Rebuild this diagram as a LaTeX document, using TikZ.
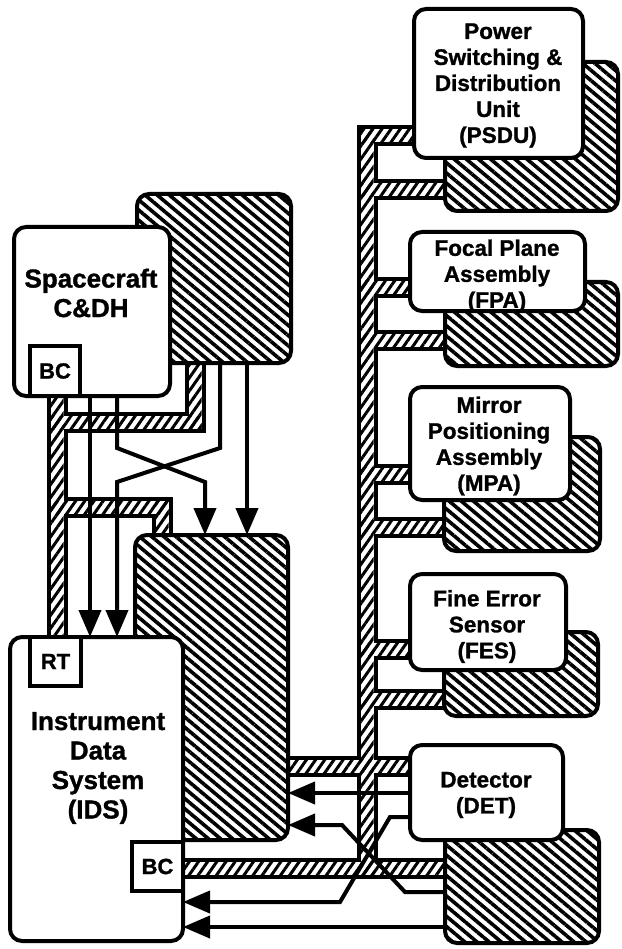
\documentclass[tikz,border=0pt]{standalone}
\usepackage{fontspec}
\setmainfont{Liberation Sans}[BoldFeatures={FakeBold=1.2}]
\usetikzlibrary{patterns.meta,arrows.meta,calc}
\pgfdeclarelayer{bg}
\pgfsetlayers{bg,main}
\newcommand\hatchseg[2]{\fill[bandhatch] ($(#1)+(-6.5,-6.5)$) rectangle ($(#2)+(6.5,6.5)$);}
\begin{document}
\begin{tikzpicture}[x=1pt,y=-1pt,
  whitebox/.style={draw,line width=4pt,fill=white,rounded corners=12pt,inner sep=0pt,outer sep=0pt},
  shadowbox/.style={draw,line width=4pt,rounded corners=12pt,inner sep=0pt,outer sep=0pt,preaction={fill=white},pattern={Lines[angle=-40,distance=7.8pt,line width=3.6pt]}},
  smallbox/.style={draw,line width=4pt,fill=white,inner sep=0pt,outer sep=0pt,font=\fontsize{22pt}{24pt}\selectfont\bfseries},
  bigtext/.style={align=center,inner sep=0pt,font=\fontsize{26pt}{29.5pt}\selectfont\bfseries},
  smalltext/.style={align=center,inner sep=0pt,font=\fontsize{22.5pt}{26pt}\selectfont\bfseries},
  bandout/.style={line width=21pt,line join=miter,black},
  bandin/.style={line width=13pt,line join=miter,white},
  bandhatch/.style={pattern={Lines[angle=55,distance=7.5pt,line width=3pt]}},
  arr/.style={line width=4pt,line join=miter,-{Triangle[length=27pt,width=22pt]}}
]
\useasboundingbox (0,0) rectangle (621,949);

% ---------- boxes ----------
\node[shadowbox,minimum width=154pt,minimum height=169pt] (scs) at (214,278.5) {};
\node[whitebox,minimum width=156pt,minimum height=169pt] (sc) at (92,311.5) {};
\node[smallbox,minimum width=50pt,minimum height=50pt] (scbc) at (55,371) {BC};

\node[shadowbox,minimum width=153pt,minimum height=305pt] (idss) at (211.5,687.5) {};
\node[whitebox,minimum width=173pt,minimum height=304pt] (ids) at (96.5,789) {};
\node[smallbox,minimum width=51pt,minimum height=49pt] (rt) at (55.5,661.5) {RT};
\node[smallbox,minimum width=51pt,minimum height=49pt] (idsbc) at (157.5,866.5) {BC};

\node[shadowbox,minimum width=173pt,minimum height=149pt] (psdus) at (531.5,136.5) {};
\node[whitebox,minimum width=169pt,minimum height=149pt] (psdu) at (498.5,83.5) {};
\node[shadowbox,minimum width=173pt,minimum height=84pt] (fpas) at (531.5,324) {};
\node[whitebox,minimum width=175pt,minimum height=79pt] (fpa) at (497.5,271.5) {};
\node[shadowbox,minimum width=156pt,minimum height=114pt] (mpas) at (522,494) {};
\node[whitebox,minimum width=160pt,minimum height=113pt] (mpa) at (490,443.5) {};
\node[shadowbox,minimum width=154pt,minimum height=84pt] (fess) at (521,674) {};
\node[whitebox,minimum width=156pt,minimum height=96pt] (fes) at (488,622) {};
\node[shadowbox,minimum width=154pt,minimum height=113pt] (dets) at (522,886.5) {};
\node[whitebox,minimum width=153pt,minimum height=95pt] (det) at (486.5,792.5) {};

% ---------- texts ----------
\node[bigtext] (sctext) at (91,293) {Spacecraft\\C\&DH};
\node[bigtext] (idstext) at (98,768) {Instrument\\Data\\System\\(IDS)};
\node[smalltext] (psdutext) at (498,85.5) {Power\\Switching \&\\Distribution\\Unit\\(PSDU)};
\node[smalltext] (fpatext) at (497,276) {Focal Plane\\Assembly\\(FPA)};
\node[smalltext] (mpatext) at (489,446) {Mirror\\Positioning\\Assembly\\(MPA)};
\node[smalltext] (festext) at (487,626.5) {Fine Error\\Sensor\\(FES)};
\node[smalltext] (dettext) at (486,795) {Detector\\(DET)};

% ---------- reference coordinates ----------
\coordinate (xL) at (57,0);
\coordinate (xLb) at (195,0);
\coordinate (xLc) at (162,0);
\coordinate (xR) at (367,0);
\coordinate (yA) at (0,422.5);
\coordinate (yB) at (0,507.5);
\coordinate (yP1) at (0,136);
\coordinate (yP2) at (0,190);
\coordinate (yF1) at (0,287.5);
\coordinate (yF2) at (0,340);
\coordinate (yM1) at (0,474);
\coordinate (yM2) at (0,527);
\coordinate (yE1) at (0,649);
\coordinate (yE2) at (0,699);
\coordinate (yD1) at (0,766);
\coordinate (yD2) at (0,868);

% ---------- buses ----------
\begin{pgfonlayer}{bg}
\foreach \st in {bandout,bandin}{
\draw[\st] (xL |- sc.south) -- (xL |- ids.north)
  (xL |- yA) -- (xLb |- yA) -- (xLb |- scs.south)
  (xL |- yB) -- (xLc |- yB) -- (xLc |- idss.north)
  (psdu.west |- yP1) -- (xR |- yP1) -- (xR |- yD2)
  (xR |- yP2) -- (psdus.west |- yP2)
  (xR |- yF1) -- (fpa.west |- yF1)
  (xR |- yF2) -- (fpas.west |- yF2)
  (xR |- yM1) -- (mpa.west |- yM1)
  (xR |- yM2) -- (mpas.west |- yM2)
  (xR |- yE1) -- (fes.west |- yE1)
  (xR |- yE2) -- (fess.west |- yE2)
  (idss.east |- yD1) -- (det.west |- yD1)
  (idsbc.east |- yD2) -- (dets.west |- yD2);
}
\hatchseg{xL |- sc.south}{xL |- ids.north}
\hatchseg{xL |- yA}{xLb |- yA}
\hatchseg{xLb |- scs.south}{xLb |- yA}
\hatchseg{xL |- yB}{xLc |- yB}
\hatchseg{xLc |- yB}{xLc |- idss.north}
\hatchseg{xR |- yP1}{psdu.west |- yP1}
\hatchseg{xR |- yP1}{xR |- yD2}
\hatchseg{xR |- yP2}{psdus.west |- yP2}
\hatchseg{xR |- yF1}{fpa.west |- yF1}
\hatchseg{xR |- yF2}{fpas.west |- yF2}
\hatchseg{xR |- yM1}{mpa.west |- yM1}
\hatchseg{xR |- yM2}{mpas.west |- yM2}
\hatchseg{xR |- yE1}{fes.west |- yE1}
\hatchseg{xR |- yE2}{fess.west |- yE2}
\hatchseg{idss.east |- yD1}{det.west |- yD1}
\hatchseg{idsbc.east |- yD2}{dets.west |- yD2}
\end{pgfonlayer}

% ---------- arrows ----------
\coordinate (x90) at (90,0);
\coordinate (x117) at (117,0);
\coordinate (x205) at (205,0);
\coordinate (x220) at (220,0);
\coordinate (x247) at (247,0);
\coordinate (y448) at (0,448);
\coordinate (y482) at (0,482);
\coordinate (y793) at (0,793);
\coordinate (y817) at (0,817);
\coordinate (y825) at (0,825);
\coordinate (y892) at (0,892);
\coordinate (y902) at (0,902);
\coordinate (y927) at (0,927);
\coordinate (ba) at (390,817);
\coordinate (bb) at (340,902);
\coordinate (bc) at (405,892);
\coordinate (bd) at (342,825);

\draw[arr] (x90 |- sc.south) -- (x90 |- ids.north);
\draw[arr] (x117 |- sc.south) -- (x117 |- y448) -- (x205 |- y482) -- (x205 |- idss.north);
\draw[arr] (x220 |- scs.south) -- (x220 |- y448) -- (x117 |- y482) -- (x117 |- ids.north);
\draw[arr] (x247 |- scs.south) -- (x247 |- idss.north);
\draw[arr] (det.west |- y793) -- (idss.east |- y793);
\draw[arr] (det.west |- y817) -- (ba) -- (bb) -- (ids.east |- y902);
\draw[arr] (dets.west |- y892) -- (bc) -- (bd) -- (idss.east |- y825);
\draw[arr] (dets.west |- y927) -- (ids.east |- y927);
\end{tikzpicture}
\end{document}
